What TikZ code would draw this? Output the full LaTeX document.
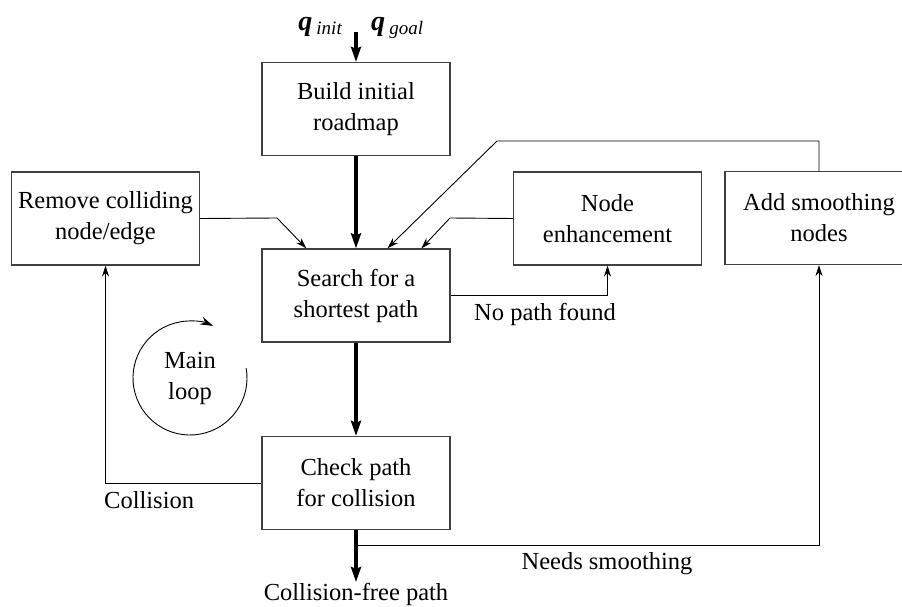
\documentclass[tikz,border=0pt]{standalone}
\usepackage{fontspec}
\setmainfont{Liberation Serif}
\usetikzlibrary{arrows.meta,calc}
\begin{document}
\begin{tikzpicture}[x=1pt,y=1pt,
  box/.style={draw=black!75,line width=1.2pt,minimum width=188pt,minimum height=93pt,
    align=center,inner sep=0pt,font=\fontsize{24.5}{31}\selectfont},
  lbl/.style={inner sep=0pt,font=\fontsize{24.5}{31}\selectfont},
  thin/.style={line width=0.9pt,-{Stealth[length=11pt,width=7pt]}},
  thick/.style={line width=3.2pt,-{Stealth[length=15pt,width=10pt,inset=2pt]}},
  plain/.style={line width=0.9pt}]
\clip (0,0) rectangle (902,606);
\node[box] (build) at (356,497) {Build initial\\roadmap};
\node[box] (search) at (356,310.5) {Search for a\\shortest path};
\node[box] (check) at (356,123) {Check path\\for collision};
\node[box] (remove) at (105.5,387.5) {Remove colliding\\node/edge};
\node[box] (enh) at (607.5,387.5) {Node\\enhancement};
\node[box] (smooth) at (819,388) {Add smoothing\\nodes};
\node[lbl,anchor=base east] (qi) at (342,575) {{\fontsize{28}{28}\selectfont\bfseries\itshape q}\,\raisebox{-4pt}{\fontsize{19}{19}\selectfont\itshape init}};
\node[lbl,anchor=base west] (qg) at (371,575) {{\fontsize{28}{28}\selectfont\bfseries\itshape q}\,\raisebox{-4pt}{\fontsize{19}{19}\selectfont\itshape goal}};
\coordinate (qin) at (356,574);
\coordinate (cfp) at (356,24);
\coordinate (ns) at (356,61);
\node[lbl] (cfplbl) at (356,12) {Collision-free path};
\node[lbl] (nslbl) at (607,42) {Needs smoothing};
\node[lbl,anchor=west] (collbl) at (104,106) {Collision};
\node[lbl] (nplbl) at (545,292) {No path found};
\node[lbl,align=center] (loop) at (190,228) {Main\\loop};
% thick main flow
\draw[thick] (qin) -- (build.north);
\draw[thick] (build.south) -- (search.north);
\draw[thick] (search.south) -- (check.north);
\draw[thick] (check.south) -- (cfp);
% side flows
\draw[thin] (ns) -| (smooth.south);
\draw[thin] (check.west) -| (remove.south);
\draw[thin] (search.east |- 0,311) -| (enh.south);
\draw[thin] (remove.east) -- (277,388) -- ($(search.north west)+(45,0)$);
\draw[thin] (enh.west) -- (450,388) -- ($(search.north west)+(160,0)$);
\draw[thin] (smooth.north) -- (819,465) -- (497,465) -- ($(search.north west)+(126,0)$);
% main loop
\draw[line width=0.9pt,-{Stealth[length=13pt,width=8pt]}] (loop.center) ++(10:57) arc[start angle=10,end angle=-294,radius=57];
\end{tikzpicture}
\end{document}
